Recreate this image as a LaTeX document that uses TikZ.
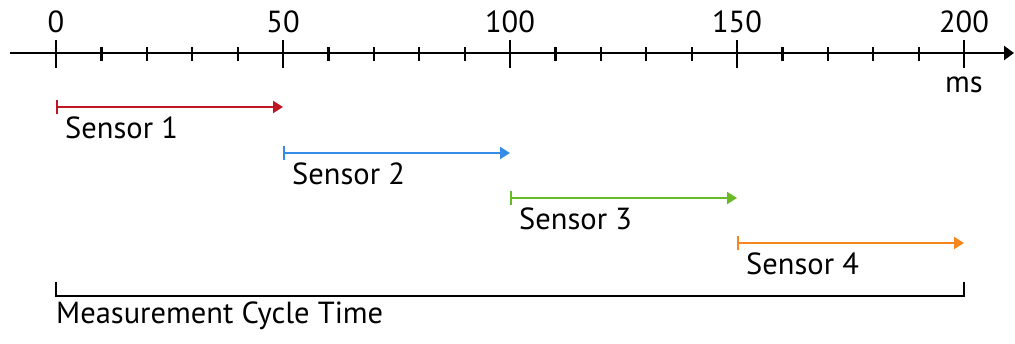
\documentclass[tikz,border=0pt]{standalone}
\usepackage{fontspec}
\setmainfont{PT Sans}
\usetikzlibrary{arrows.meta}
\definecolor{sred}{RGB}{190,22,34}
\definecolor{sblue}{RGB}{52,140,230}
\definecolor{sgreen}{RGB}{104,186,40}
\definecolor{sorange}{RGB}{247,134,30}
\tikzset{
  axisline/.style={line width=2.4pt, -{Triangle[length=10pt,width=14pt]}},
  tickline/.style={line width=2.2pt},
  span/.style={line width=2.2pt, {Bar[width=14pt,line width=2pt]}-{Triangle[length=10pt,width=12pt]}},
  lbl/.style={inner sep=0pt, font=\fontsize{30.5}{32}\selectfont},
  bracket/.style={line width=2.2pt},
}
\begin{document}
\begin{tikzpicture}[x=1pt,y=-1pt]
\useasboundingbox[fill=white] (0,0) rectangle (1015,343);

% time axis in ms: x = 56 + 4.54 * t
\coordinate (axL) at (10,53);
\coordinate (axR) at (1014,53);
\draw[axisline] (axL) -- (axR);
\foreach \i in {0,...,20}{
  \pgfmathsetmacro{\xx}{56+\i*45.4}
  \pgfmathtruncatemacro{\m}{mod(\i,5)}
  \ifnum\m=0
    \coordinate (mt\i) at (\xx,40);
    \coordinate (mb\i) at (\xx,68);
    \draw[tickline] (mt\i) -- (mb\i);
  \else
    \coordinate (nt\i) at (\xx,47);
    \coordinate (nb\i) at (\xx,61);
    \draw[tickline] (nt\i) -- (nb\i);
  \fi
}
\node[lbl, anchor=base] (l0)   at (56,32)  {0};
\node[lbl, anchor=base] (l50)  at (283,32) {50};
\node[lbl, anchor=base] (l100) at (510,32) {100};
\node[lbl, anchor=base] (l150) at (737,32) {150};
\node[lbl, anchor=base] (l200) at (964,32) {200};
\node[lbl, anchor=base] (ms)   at (964,92) {ms};

% sensor time slots
\coordinate (s1a) at (56,107);  \coordinate (s1b) at (283,107);
\coordinate (s2a) at (283,153); \coordinate (s2b) at (510,153);
\coordinate (s3a) at (510,198); \coordinate (s3b) at (737,198);
\coordinate (s4a) at (737,243); \coordinate (s4b) at (964,243);
\draw[span, sred]    (s1a) -- (s1b);
\draw[span, sblue]   (s2a) -- (s2b);
\draw[span, sgreen]  (s3a) -- (s3b);
\draw[span, sorange] (s4a) -- (s4b);
\node[lbl, anchor=base west] (sen1) at (65,138)  {Sensor 1};
\node[lbl, anchor=base west] (sen2) at (292,184) {Sensor 2};
\node[lbl, anchor=base west] (sen3) at (519,229) {Sensor 3};
\node[lbl, anchor=base west] (sen4) at (746,274) {Sensor 4};

% whole cycle bracket
\coordinate (bL) at (56,282);
\coordinate (bLd) at (56,296);
\coordinate (bRd) at (964,296);
\coordinate (bR) at (964,282);
\draw[bracket, line join=miter] (bL) -- (bLd) -- (bRd) -- (bR);
\node[lbl, anchor=base west] (cycle) at (56,323) {Measurement Cycle Time};
\end{tikzpicture}
\end{document}
